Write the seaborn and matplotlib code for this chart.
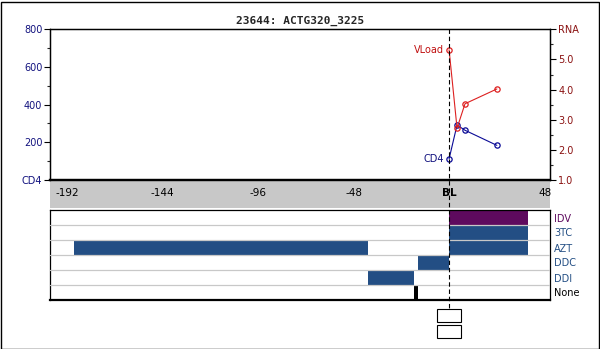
import matplotlib
matplotlib.use("Agg")
import matplotlib.pyplot as plt
import matplotlib.transforms as mtransforms
from matplotlib.patches import Rectangle
from matplotlib.lines import Line2D
from matplotlib.ticker import MultipleLocator, FixedLocator
import seaborn as sns

# Lab results by week relative to baseline (BL)
weeks = [0, 4, 8, 24]
cd4 = [112, 292, 264, 184]
rna_log = [5.32, 2.72, 3.53, 4.02]

# Treatment history rows (top to bottom) and the regimen spans in weeks
drug_rows = ["IDV", "3TC", "AZT", "DDC", "DDI", "None"]
span_drug = ["IDV", "3TC", "AZT", "AZT", "DDC", "DDI", "None"]
span_start = [0, 0, -188.5, 0, -15.5, -40.7, -17.5]
span_end = [39.5, 39.5, -40.7, 39.5, 0, -17.5, -15.5]

week_ticks = [-192, -144, -96, -48, 0, 48]
week_labels = ["-192", "-144", "-96", "-48", "BL", "48"]
cd4_ticks = [0, 200, 400, 600, 800]
cd4_labels = ["CD4", "200", "400", "600", "800"]
rna_ticks = [1, 2, 3, 4, 5, 6]
rna_labels = ["1.0", "2.0", "3.0", "4.0", "5.0", "RNA"]

sns.set_style("white")
plt.rcParams["font.family"] = ["DejaVu Sans"]
plt.rcParams["font.size"] = 7

NAVY = "#12127f"
DARKRED = "#8a1010"
RED = "#dd2020"
BLUE_BAR = "#234e84"
PURPLE = "#5e0a5e"
GRID = "#c8c8c8"

W, H = 600, 349
XLIM = (-200.5, 50.7)


def rect(l, t, r, b):
    return [l / W, 1 - b / H, (r - l) / W, (b - t) / H]


fig = plt.figure(figsize=(W / 100, H / 100), dpi=100)
fig.patch.set_facecolor("white")

# grey strip behind the week labels
band = fig.add_axes(rect(50, 180, 550, 208))
band.set_facecolor(GRID)
band.set_xticks([])
band.set_yticks([])
for s in band.spines.values():
    s.set_visible(False)
band.set_zorder(0)

# --- lab panel ---
ax = fig.add_axes(rect(50, 29.3, 550, 180))
ax.set_zorder(2)
ax2 = ax.twinx()

sns.lineplot(x=weeks, y=rna_log, ax=ax2, color=RED, marker="o", markersize=3.8,
             markerfacecolor="none", markeredgecolor=RED, markeredgewidth=0.9,
             linewidth=0.8, errorbar=None, zorder=2)
sns.lineplot(x=weeks, y=cd4, ax=ax, color="#0a0a96", marker="o", markersize=3.8,
             markerfacecolor="none", markeredgecolor="#0a0a96", markeredgewidth=0.9,
             linewidth=0.8, errorbar=None)

ax.annotate("CD4", (weeks[0], cd4[0]), xytext=(-3.5, 0), textcoords="offset points",
            ha="right", va="center", color=NAVY, fontsize=7)
ax2.annotate("VLoad", (weeks[0], rna_log[0]), xytext=(-3.5, 0), textcoords="offset points",
             ha="right", va="center", color="#c01010", fontsize=7)

ax.set_xlim(*XLIM)
ax.set_ylim(0, 800)
ax2.set_ylim(1, 6)

ax.xaxis.set_major_locator(FixedLocator(week_ticks))
ax.xaxis.set_minor_locator(MultipleLocator(12))
ax.set_xticklabels(week_labels)
for lbl in ax.get_xticklabels():
    if lbl.get_text() == "BL":
        lbl.set_fontweight("bold")
ax.tick_params(axis="x", which="major", direction="inout", length=5, width=0.8,
               pad=3.5, labelsize=7.5, colors="black")
ax.tick_params(axis="x", which="minor", direction="in", length=2.5, width=0.8)

ax.yaxis.set_major_locator(FixedLocator(cd4_ticks))
ax.yaxis.set_minor_locator(MultipleLocator(100))
ax.set_yticklabels(cd4_labels)
ax.tick_params(axis="y", which="major", direction="out", length=4, width=0.8,
               pad=1.5, labelsize=7, color="black", labelcolor=NAVY)
ax.tick_params(axis="y", which="minor", direction="out", length=2.2, width=0.8)

ax2.yaxis.set_major_locator(FixedLocator(rna_ticks))
ax2.yaxis.set_minor_locator(MultipleLocator(0.5))
ax2.set_yticklabels(rna_labels)
ax2.tick_params(axis="y", which="major", direction="out", length=4, width=0.8,
                pad=2, labelsize=7, color="black", labelcolor=DARKRED)
ax2.tick_params(axis="y", which="minor", direction="out", length=2.2, width=0.8)

for a in (ax, ax2):
    a.set_xlabel("")
    a.set_ylabel("")
    for s in a.spines.values():
        s.set_color("black")
        s.set_linewidth(0.9)
    a.spines["bottom"].set_linewidth(1.6)

ax.set_title("23644: ACTG320_3225", fontsize=8, fontweight="bold",
             family="DejaVu Sans Mono", pad=4)

# --- treatment panel ---
bx = fig.add_axes(rect(50, 210, 550, 300))
bx.set_zorder(1)
row_pos = {d: i for i, d in enumerate(drug_rows)}
for d, s0, s1 in zip(span_drug, span_start, span_end):
    c = PURPLE if d == "IDV" else ("black" if d == "None" else BLUE_BAR)
    bx.barh(row_pos[d], s1 - s0, left=s0, height=1.0, color=c, linewidth=0, zorder=2)
for i in range(len(drug_rows) - 1):
    bx.axhline(i + 0.5, color=GRID, linewidth=0.9, zorder=3)

bx.set_xlim(*XLIM)
bx.set_ylim(len(drug_rows) - 0.5, -0.5)
bx.set_xticks([])
bx.yaxis.tick_right()
bx.set_yticks(range(len(drug_rows)))
bx.set_yticklabels(drug_rows)
bx.tick_params(axis="y", length=0, pad=3, labelsize=7)
for lbl in bx.get_yticklabels():
    t = lbl.get_text()
    lbl.set_color(PURPLE if t == "IDV" else ("black" if t == "None" else BLUE_BAR))
for s in bx.spines.values():
    s.set_color("black")
    s.set_linewidth(0.9)
bx.spines["bottom"].set_linewidth(1.6)

# baseline marker running from the lab panel down to the note boxes
trans = mtransforms.blended_transform_factory(ax.transData, fig.transFigure)
fig.add_artist(Line2D([0, 0], [1 - 29.3 / H, 1 - 309 / H], transform=trans,
                      color="black", linewidth=0.8, linestyle=(0, (4, 2.5)), zorder=5))
for top, bot in [(309.3, 322.3), (325.3, 338.3)]:
    fig.add_artist(Rectangle((-6, 1 - bot / H), 12, (bot - top) / H, transform=trans,
                             facecolor="white", edgecolor="black", linewidth=0.8, zorder=6))

# outer frame
fig.add_artist(Rectangle((0.5 / W, 0.5 / H), (W - 2) / W, (H - 2) / H,
                         transform=fig.transFigure, fill=False, edgecolor="black",
                         linewidth=1.0))

fig.savefig("out.png", dpi=100)
